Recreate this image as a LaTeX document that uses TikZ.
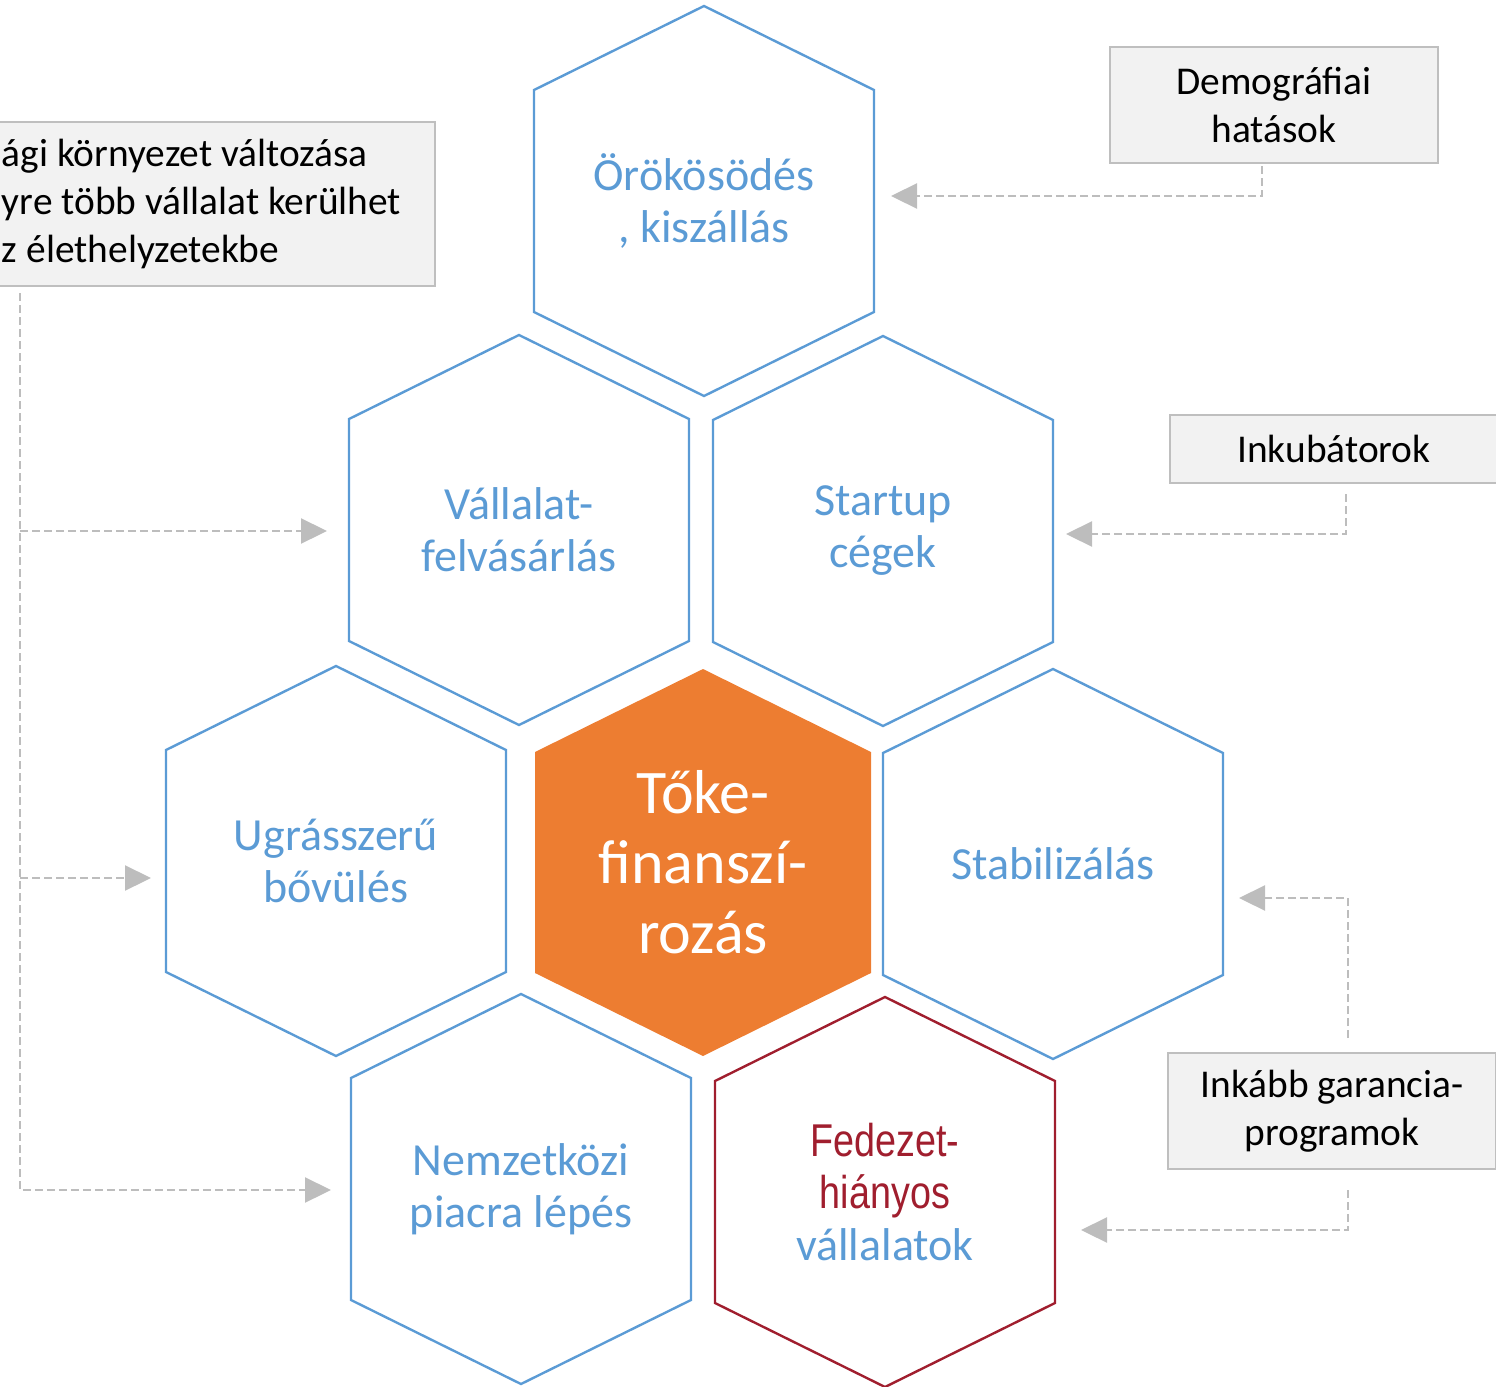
\documentclass[tikz,border=0pt]{standalone}
\usepackage{fontspec}
\setmainfont{Carlito}
\newfontfamily\narrowfont[FakeStretch=0.82]{Liberation Sans}
\usetikzlibrary{arrows.meta}
\definecolor{hexblue}{HTML}{5B9BD5}
\definecolor{hexorange}{HTML}{ED7D31}
\definecolor{fedred}{HTML}{A01E2E}
\definecolor{boxfill}{HTML}{F2F2F2}
\definecolor{boxline}{HTML}{BFBFBF}
\definecolor{connc}{HTML}{BDBDBD}
\newcommand\myhex[2]{%
  \draw[#2] (#1.center) ++(0,-195) -- ++(170,84) -- ++(0,222) -- ++(-170,84)
    -- ++(-170,-84) -- ++(0,-222) -- cycle;}
\begin{document}
\begin{tikzpicture}[x=0.5pt,y=-0.5pt,
  hexline/.style={draw=hexblue,line width=1.2pt,line join=miter},
  redline/.style={draw=fedred,line width=1.2pt,line join=miter},
  hextext/.style={text=hexblue,align=center,font=\fontsize{23}{26}\selectfont,inner sep=0pt},
  centertext/.style={text=white,align=center,font=\fontsize{31}{35}\selectfont,inner sep=0pt},
  greybox/.style={draw=boxline,fill=boxfill,line width=1pt,text=black,
    font=\fontsize{19.7}{24}\selectfont,inner ysep=0pt},
  connector/.style={draw=connc,line width=1.15pt,dash pattern=on 4pt off 2pt,
    -{Triangle[length=13pt,width=12.5pt,fill=connc,sep=0pt]},shorten >=0pt},
]
\useasboundingbox (0,0) rectangle (1496,1387);

% hexagon text nodes
\node[hextext] (oro) at (704,201) {Örökösödés\\, kiszállás};
\node[hextext] (val) at (519,530) {Vállalat-\\felvásárlás};
\node[hextext] (sta) at (883,531) {Startup\\cégek};
\node[hextext] (ugr) at (336,861) {Ugrásszerű\\bővülés};
\node[hextext] (stb) at (1053,864) {Stabilizálás};
\node[hextext] (nem) at (521,1189) {Nemzetközi\\piacra lépés};

% hexagons
\myhex{oro}{hexline}
\myhex{val}{hexline}
\myhex{sta}{hexline}
\myhex{ugr}{hexline}
\myhex{stb}{hexline}
\myhex{nem}{hexline}
\coordinate (tokec) at (703,862);
\fill[hexorange] (tokec) ++(0,-193) -- ++(168,83) -- ++(0,221) -- ++(-168,83)
    -- ++(-168,-83) -- ++(0,-221) -- cycle;
\node[centertext] (toke) at (tokec) {Tőke-\\finanszí-\\rozás};
\coordinate (fedc) at (885,1192);
\myhex{fedc}{redline}
\node[hextext] (fed) at (fedc) {{\narrowfont\color{fedred}Fedezet-}\\{\narrowfont\color{fedred}hiányos}\\vállalatok};

% grey boxes
\node[greybox,anchor=north west,minimum width=222pt,minimum height=82pt,
  text width=211pt,inner xsep=5.5pt,align=left] (env) at (-10,121)
  {\spaceskip=0pt\xspaceskip=0pt ági környezet változása\\yre több vállalat kerülhet\\z élethelyzetekbe};
\node[greybox,minimum width=164pt,minimum height=58pt,align=center] (demo) at (1274,105)
  {Demográfiai\\hatások};
\node[greybox,minimum width=164pt,minimum height=34pt,align=center] (inku) at (1334,449)
  {Inkubátorok};
\node[greybox,minimum width=164pt,minimum height=58pt,align=center] (gar) at (1332,1111)
  {Inkább garancia-\\programok};

% arrow tips
\coordinate (t1) at (891,196);
\coordinate (t2) at (1066,534);
\coordinate (t3) at (1239,898);
\coordinate (t4) at (1081,1230);
\coordinate (t5) at (331,1190);
\coordinate (t6) at (327,531);
\coordinate (t7) at (151,878);

% connectors
\draw[connector] ([xshift=-6pt,yshift=-1pt]demo.south) |- (t1);
\draw[connector] ([xshift=6pt,yshift=-5pt]inku.south) |- (t2);
\draw[connector] ([xshift=8pt,yshift=7pt]gar.north) |- (t3);
\draw[connector] ([xshift=8pt,yshift=-10pt]gar.south) |- (t4);
\coordinate (trunk) at ([xshift=15pt,yshift=-3pt]env.south west);
\draw[connector] (trunk) |- (t5);
\draw[connector] (trunk |- t6) -- (t6);
\draw[connector] (trunk |- t7) -- (t7);
\end{tikzpicture}
\end{document}
